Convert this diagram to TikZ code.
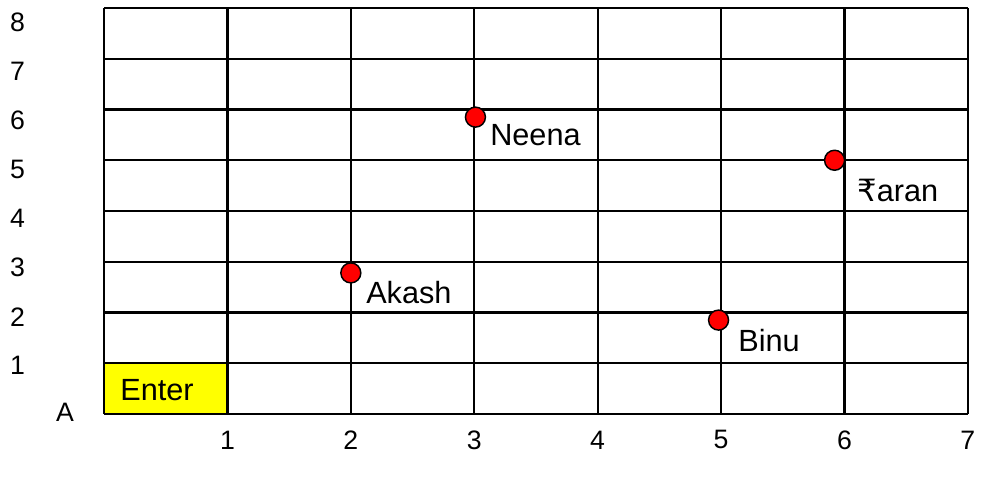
\documentclass[tikz,border=0pt]{standalone}
\usepackage{fontspec}
\setmainfont{Liberation Sans}
\newfontfamily\rupeefont{DejaVu Sans}
\usetikzlibrary{positioning}
\definecolor{DotRed}{RGB}{255,0,0}
\definecolor{EnterYellow}{RGB}{255,255,0}
\tikzset{
  gridline/.style={draw=black,line width=1.7pt},
  dot/.style={circle,draw=black,fill=DotRed,line width=1.1pt,inner sep=0pt,minimum size=15pt},
  lab/.style={anchor=west,inner sep=0pt,font=\fontsize{23}{27}\selectfont},
}
\tikzset{axnum/.style={inner sep=0pt,font=\fontsize{20}{24}\selectfont}}

\begin{document}
\begin{tikzpicture}[x=92.55pt,y=38.06pt]
\useasboundingbox (-0.843,-1.340) rectangle (7.131,8.158);
\fill[EnterYellow] (0,0) rectangle (1,1);
\foreach \i in {0,...,7} \draw[gridline] (\i,0) -- (\i,8);
\foreach \j in {0,...,8} \draw[gridline] (0,\j) -- (7,\j);
\node[lab] (enter) at (0.13,0.47) {Enter};
% axis numbers
\foreach \k in {1,...,8} \node[axnum] (row\k) at (-0.70,{0.95+0.967*(\k-1)}) {\k};
\foreach \k in {1,...,7} \node[axnum] (col\k) at (\k,-0.51) {\k};
\node[axnum] (cornerA) at (-0.316,0.04) {A};
% people
\node[dot] (akash) at (2.0,2.78) {};
\node[dot] (neena) at (3.01,5.85) {};
\node[dot] (faran) at (5.92,5.0) {};
\node[dot] (binu) at (4.98,1.85) {};
\node[lab] (akashL) at (2.123,2.384) {Akash};
\node[lab] (neenaL) at (3.128,5.497) {Neena};
\node[lab] (faranL) at (6.102,4.414) {{\rupeefont ₹}aran};
\node[lab] (binuL) at (5.138,1.438) {Binu};
\end{tikzpicture}
\end{document}
